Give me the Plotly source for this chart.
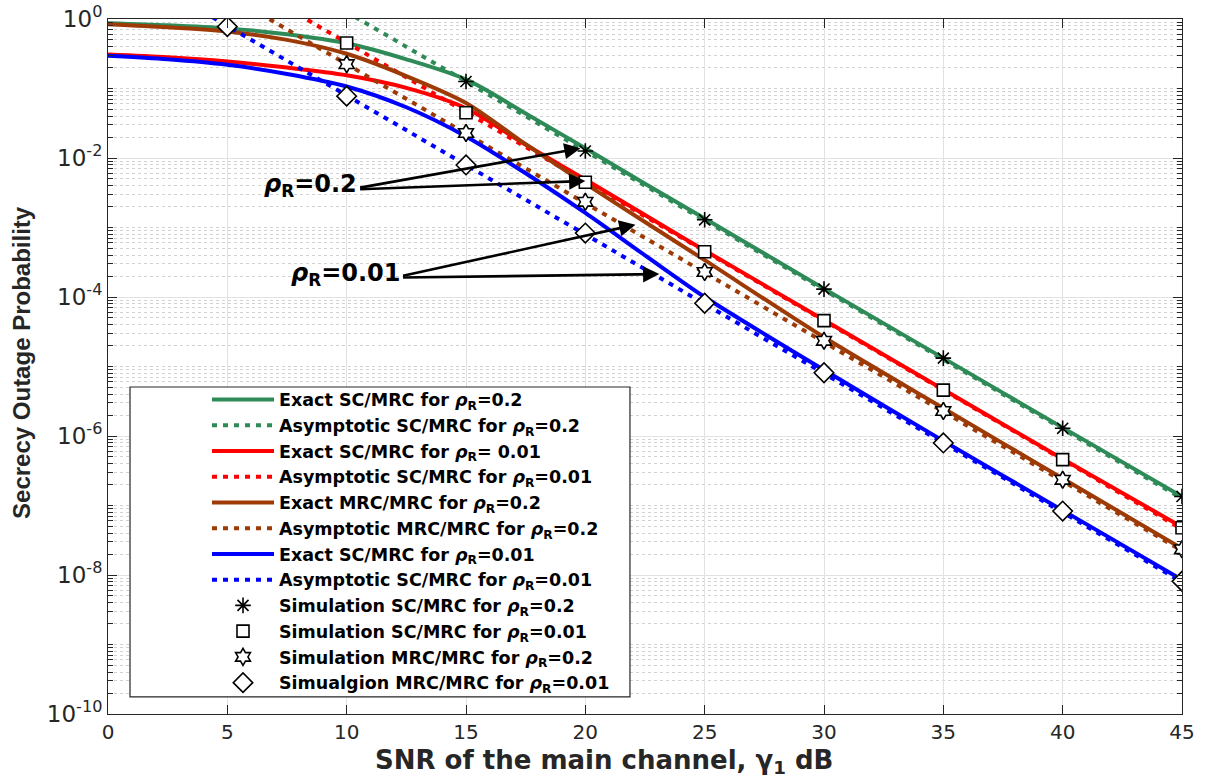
import plotly.graph_objects as go

# ---------------------------------------------------------------- data
# SNR grid used for the exact (analytical) curves, dB
snr_exact = [0, 2.5, 5, 7.5, 10, 12.5, 15, 17.5, 20, 22.5, 25, 30, 35, 40, 45]
exact_sc_02 = [0.871, 0.813, 0.733, 0.603, 0.447, 0.263, 0.135, 0.0437, 0.0138,
               4.27e-3, 1.35e-3, 1.32e-4, 1.32e-5, 1.32e-6, 1.35e-7]
exact_sc_001 = [0.309, 0.282, 0.245, 0.200, 0.155, 0.102, 0.0520, 0.0155, 4.9e-3,
                1.51e-3, 4.68e-4, 4.68e-5, 4.68e-6, 4.68e-7, 4.9e-8]
exact_mrc_02 = [0.841, 0.759, 0.661, 0.501, 0.316, 0.151, 0.0620, 0.0158, 4.27e-3,
                1.20e-3, 3.39e-4, 2.63e-5, 2.51e-6, 2.45e-7, 2.40e-8]
exact_mrc_001 = [0.295, 0.263, 0.219, 0.162, 0.107, 0.0537, 0.0204, 6.03e-3, 1.62e-3,
                 3.98e-4, 1.0e-4, 8.91e-6, 8.51e-7, 8.51e-8, 8.51e-9]

# SNR grid for the high-SNR asymptotes, dB
snr_asym = [0, 5, 10, 15, 20, 25, 30, 35, 40, 45]
asym_sc_02 = [126.0, 12.6, 1.26, 0.126, 0.0126, 1.26e-3, 1.26e-4, 1.26e-5, 1.26e-6, 1.26e-7]
asym_sc_001 = [45.7, 4.57, 0.457, 0.0457, 4.57e-3, 4.57e-4, 4.57e-5, 4.57e-6, 4.57e-7, 4.57e-8]
asym_mrc_02 = [22.4, 2.24, 0.224, 0.0224, 2.24e-3, 2.24e-4, 2.24e-5, 2.24e-6, 2.24e-7, 2.24e-8]
asym_mrc_001 = [7.94, 0.794, 0.0794, 7.94e-3, 7.94e-4, 7.94e-5, 7.94e-6, 7.94e-7, 7.94e-8, 7.94e-9]

# Monte-Carlo simulation points
snr_sim_sc_02 = [15, 20, 25, 30, 35, 40, 45]
sim_sc_02 = [0.126, 0.0126, 1.29e-3, 1.30e-4, 1.32e-5, 1.29e-6, 1.35e-7]
snr_sim_sc_001 = [10, 15, 20, 25, 30, 35, 40, 45]
sim_sc_001 = [0.452, 0.0447, 4.47e-3, 4.47e-4, 4.57e-5, 4.57e-6, 4.57e-7, 4.79e-8]
snr_sim_mrc_02 = [10, 15, 20, 25, 30, 35, 40, 45]
sim_mrc_02 = [0.224, 0.0229, 2.34e-3, 2.29e-4, 2.34e-5, 2.29e-6, 2.34e-7, 2.34e-8]
snr_sim_mrc_001 = [5, 10, 15, 20, 25, 30, 35, 40, 45]
sim_mrc_001 = [0.776, 0.0776, 7.94e-3, 8.32e-4, 8.13e-5, 8.13e-6, 7.94e-7, 8.32e-8, 8.13e-9]

# axis ticks
x_ticks = [0, 5, 10, 15, 20, 25, 30, 35, 40, 45]
y_tick_vals = [1, 1e-2, 1e-4, 1e-6, 1e-8, 1e-10]
y_tick_text = ["10<sup>0</sup>", "10<sup>-2</sup>", "10<sup>-4</sup>",
               "10<sup>-6</sup>", "10<sup>-8</sup>", "10<sup>-10</sup>"]

RHO = "<i>ρ</i><sub>R</sub>"
legend_names = [
    f"Exact SC/MRC for {RHO}=0.2",
    f"Asymptotic SC/MRC for {RHO}=0.2",
    f"Exact SC/MRC for {RHO}= 0.01",
    f"Asymptotic SC/MRC for {RHO}=0.01",
    f"Exact MRC/MRC for {RHO}=0.2",
    f"Asymptotic MRC/MRC for {RHO}=0.2",
    f"Exact SC/MRC for {RHO}=0.01",
    f"Asymptotic SC/MRC for {RHO}=0.01",
    f"Simulation SC/MRC for {RHO}=0.2",
    f"Simulation SC/MRC for {RHO}=0.01",
    f"Simulation MRC/MRC for {RHO}=0.2",
    f"Simualgion MRC/MRC for {RHO}=0.01",
]
x_title = "SNR of the main channel, γ<sub>1</sub> dB"
y_title = "Secrecy Outage Probability"

# ---------------------------------------------------------------- styles
GREEN = "#2E8B57"
RED = "#FF0000"
BROWN = "#9E3A06"
BLUE = "#0000FF"
AXIS_COLOR = "#262626"
LW = 4
DOTS = "5px,6px"

fig = go.Figure()

curves = [
    (snr_exact, exact_sc_02, GREEN, "solid"),
    (snr_asym, asym_sc_02, GREEN, DOTS),
    (snr_exact, exact_sc_001, RED, "solid"),
    (snr_asym, asym_sc_001, RED, DOTS),
    (snr_exact, exact_mrc_02, BROWN, "solid"),
    (snr_asym, asym_mrc_02, BROWN, DOTS),
    (snr_exact, exact_mrc_001, BLUE, "solid"),
    (snr_asym, asym_mrc_001, BLUE, DOTS),
]
for i, (xs, ys, col, dash) in enumerate(curves):
    fig.add_trace(go.Scatter(
        x=xs, y=ys, mode="lines", name=legend_names[i],
        line=dict(color=col, width=LW, dash=dash,
                  shape="spline" if dash == "solid" else "linear", smoothing=0.8),
    ))

sims = [
    (snr_sim_sc_02, sim_sc_02, "asterisk-open", 13, "black"),
    (snr_sim_sc_001, sim_sc_001, "square", 12, "white"),
    (snr_sim_mrc_02, sim_mrc_02, "hexagram", 13, "white"),
    (snr_sim_mrc_001, sim_mrc_001, "diamond", 15, "white"),
]
for j, (xs, ys, sym, size, fill) in enumerate(sims):
    fig.add_trace(go.Scatter(
        x=xs, y=ys, mode="markers", name=legend_names[8 + j],
        marker=dict(symbol=sym, size=size, color=fill,
                    line=dict(color="black", width=1.6)),
    ))

# ---------------------------------------------------------------- annotations
ARROW = dict(showarrow=True, arrowhead=2, arrowsize=1.25, arrowwidth=2.6,
             arrowcolor="black", axref="x", ayref="y", text="")
# arrow tips / tails in (dB, log10 P) coordinates
arrows = [
    (19.8, -1.86, 10.5, -2.43),
    (20.0, -2.33, 10.5, -2.45),
    (22.1, -2.96, 12.3, -3.70),
    (23.1, -3.67, 12.3, -3.72),
]
for xt, yt, xa, ya in arrows:
    fig.add_annotation(x=xt, y=yt, ax=xa, ay=ya, **ARROW)

LABEL_FONT = dict(family="DejaVu Sans", size=24, color="black", weight="bold")
fig.add_annotation(x=10.5, y=-2.40, text=f"{RHO}=0.2", showarrow=False,
                   xanchor="right", yanchor="middle", font=LABEL_FONT)
fig.add_annotation(x=12.3, y=-3.67, text=f"{RHO}=0.01", showarrow=False,
                   xanchor="right", yanchor="middle", font=LABEL_FONT)

# axis titles (paper coordinates relative to the plot area)
fig.add_annotation(xref="paper", yref="paper", x=0.4618, y=-0.0945,
                   text=x_title, showarrow=False, xanchor="center", yanchor="bottom",
                   font=dict(family="DejaVu Sans", size=26, color=AXIS_COLOR, weight="bold"))
fig.add_annotation(xref="paper", yref="paper", x=-0.0801, y=0.5065,
                   text=y_title, showarrow=False, textangle=-90,
                   xanchor="center", yanchor="middle",
                   font=dict(family="Liberation Sans", size=24, color=AXIS_COLOR, weight="bold"))

# legend frame
fig.add_shape(type="rect", xref="paper", yref="paper",
              x0=0.0205, x1=0.486, y0=0.0245, y1=0.4705,
              line=dict(color=AXIS_COLOR, width=1.2), fillcolor="white", layer="above")

# ---------------------------------------------------------------- layout
minor_y = [m * 10.0 ** e for e in range(-10, 0) for m in range(1, 10)
           if not (m == 1 and e % 2 == 0)]

fig.update_layout(
    width=1209, height=780,
    margin=dict(l=108, r=27, t=19, b=66, autoexpand=False),
    paper_bgcolor="white", plot_bgcolor="white",
    showlegend=True,
    legend=dict(
        xref="container", yref="container", x=207 / 1209, y=1 - 381.5 / 780,
        xanchor="left", yanchor="top",
        bgcolor="rgba(0,0,0,0)", borderwidth=0,
        font=dict(family="DejaVu Sans", size=17.5, color="black", weight="bold"),
        itemwidth=62, tracegroupgap=0,
    ),
    xaxis=dict(
        range=[0, 45], tickvals=x_ticks, ticks="inside", ticklen=9,
        tickcolor=AXIS_COLOR, showline=True, linecolor=AXIS_COLOR, linewidth=1,
        mirror="ticks", showgrid=True, gridcolor="#e2e2e2", gridwidth=1,
        zeroline=False, ticklabelstandoff=0,
        tickfont=dict(family="DejaVu Sans", size=20, color=AXIS_COLOR),
    ),
    yaxis=dict(
        type="log", range=[-10, 0], tickmode="array", tickvals=y_tick_vals,
        ticktext=y_tick_text, ticks="inside", ticklen=9, tickcolor=AXIS_COLOR,
        showline=True, linecolor=AXIS_COLOR, linewidth=1, mirror="ticks",
        showgrid=True, gridcolor="#e2e2e2", gridwidth=1, zeroline=False,
        tickfont=dict(family="DejaVu Sans", size=23, color=AXIS_COLOR),
        minor=dict(tickmode="array", tickvals=minor_y, ticks="inside", ticklen=5,
                   tickcolor=AXIS_COLOR, showgrid=True, gridcolor="#d2d2d2",
                   griddash="dot", gridwidth=1),
    ),
)

fig.write_html("out.html")
